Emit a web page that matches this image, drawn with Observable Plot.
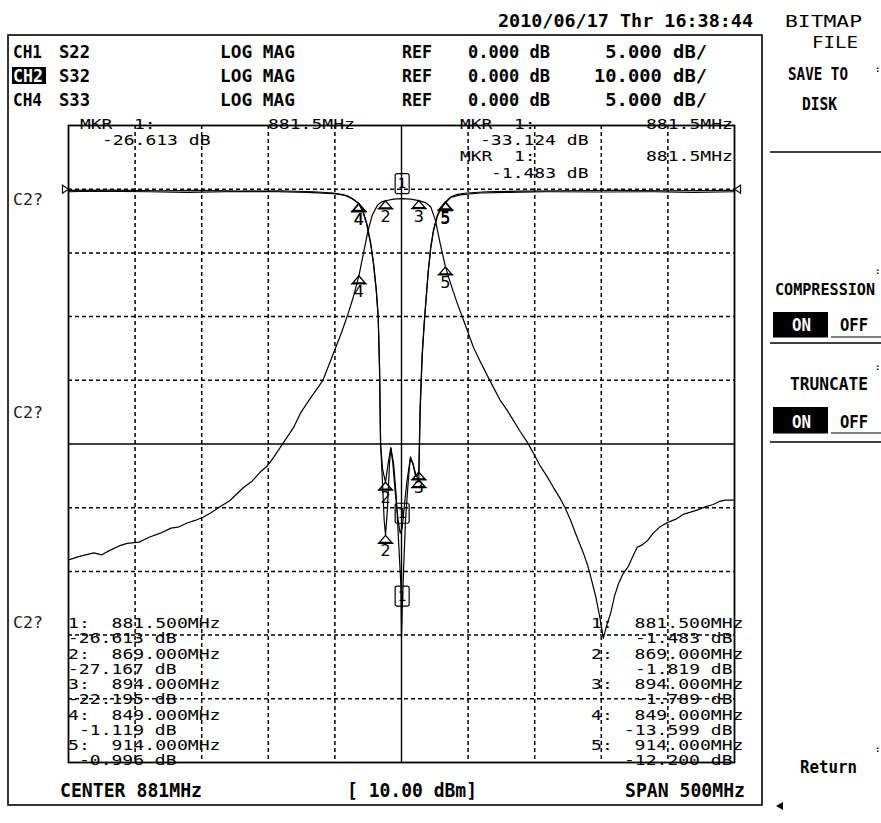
<!DOCTYPE html>
<html><head><meta charset="utf-8">
<script src="https://cdn.jsdelivr.net/npm/d3@7"></script>
<script src="https://cdn.jsdelivr.net/npm/@observablehq/plot@0.6"></script>
<style>
html,body{margin:0;padding:0;background:#fff;overflow:hidden;}
#chart{position:relative;width:881px;height:823px;}
#chart svg{display:block;}
</style></head><body><div id="chart"></div>
<script>
// ---------- data ----------
const centerFreq = 881;      // MHz
const spanMHz = 500;         // MHz
const gridFreqs = [681, 731, 781, 831, 931, 981, 1031, 1081];
const gridDivs = [0, -1, -2, -3, -5, -6, -7, -8];
const centerDiv = -4;
const divDomain = [-9, 1];

const channelNames = ["CH1", "CH2", "CH4"];
const channelParams = ["S22", "S32", "S33"];
const channelFormats = ["LOG MAG", "LOG MAG", "LOG MAG"];
const channelRefs = [0, 0, 0];
const channelScales = [5, 10, 5];
const activeChannel = "CH2";

const s32Freq = [631,640,650,656,662,669,675,684,692,700,708,714,720,726,732,738,745,752,762,769,775,780,785,792,800,805,812,822,830,836,841,845,849,852.5,856,859,863,866,869,875,881.5,888,894,899,903,906.5,910,914,918,923,928,935,940,946,951,955,960,965,970,976,981,985,990,995,1000,1004,1008,1012,1017.5,1021,1024,1027,1030,1032.5,1035,1038,1041,1044,1047,1051,1055,1058,1062,1066,1070,1075,1081,1087,1093,1098,1104,1110,1115,1120,1124,1131];
const s32Db = [-58.2,-57.6,-57.1,-57.4,-56.7,-56.0,-55.6,-55.4,-54.6,-54.0,-53.2,-53.0,-52.4,-52.0,-51.5,-50.8,-49.8,-48.9,-46.9,-45.8,-44.4,-43.5,-42.1,-39.9,-37.4,-35.2,-33.0,-30.0,-25.7,-22.5,-19.5,-16.8,-13.599,-10.0,-6.4,-4.1,-2.5,-2.0,-1.819,-1.55,-1.483,-1.55,-1.789,-2.1,-2.8,-4.9,-8.5,-12.2,-14.9,-18.0,-20.8,-24.8,-27.0,-29.5,-31.5,-33.1,-34.6,-36.3,-38.0,-39.9,-41.8,-43.4,-45.0,-46.8,-48.5,-50.1,-52.0,-54.2,-57.1,-59.2,-61.6,-64.1,-67.3,-70.5,-68.5,-66.6,-63.8,-61.9,-60.5,-59.3,-57.5,-56.2,-55.8,-55.1,-54.0,-53.0,-52.3,-51.8,-51.0,-50.7,-50.3,-49.8,-49.5,-49.0,-48.8,-48.8];

const s22Freq = [631,660,700,730,760,790,815,830,838,844,849,852,855,858,860,862,863.5,864.5,865.3,866.5,868,869,870.5,872,873,874.5,876.5,878.5,880,881.5,883,885,887.5,889.5,891.5,893,894,895,896.5,898,899.5,901,903,905,908,911,914,918,923,930,945,970,1000,1040,1080,1131];
const s22Db = [-0.1,-0.08,-0.12,-0.1,-0.15,-0.12,-0.2,-0.3,-0.45,-0.75,-1.119,-1.7,-2.7,-4.3,-5.8,-7.8,-10,-14,-20,-22.5,-26,-27.167,-25,-21.5,-20.3,-21.5,-24,-26,-27,-26.613,-25,-23,-21.2,-21.5,-22.5,-22.5,-22.195,-17,-13,-10.5,-8.5,-6.5,-4.5,-3.2,-2.0,-1.4,-0.996,-0.6,-0.4,-0.3,-0.2,-0.15,-0.12,-0.1,-0.12,-0.1];

const s33Freq = [631,650,690,720,750,780,810,830,840,845,849,852,855,858,860,862,863.5,864.5,865.3,866.8,869,871,873,875,877,879,880.5,881,881.5,882.5,884,886,887.7,889.5,892,894,895,896.5,898,899.5,901,903,905,908,911,914,918,925,940,960,990,1030,1070,1100,1131];
const s33Db = [-0.2,-0.15,-0.2,-0.25,-0.2,-0.18,-0.25,-0.35,-0.5,-0.8,-1.15,-1.75,-2.8,-4.4,-5.9,-7.9,-10,-14,-20,-22,-23,-21.5,-20.3,-21.5,-24,-28,-31,-35.2,-33.124,-30,-26,-23,-21,-21.5,-22.5,-22.8,-17.5,-13.2,-10.7,-8.6,-6.6,-4.6,-3.3,-2.1,-1.5,-1.05,-0.65,-0.45,-0.3,-0.25,-0.2,-0.22,-0.2,-0.25,-0.2];

const markerFreqs = [881.5, 869, 894, 849, 914];
const s22MarkerDb = [-26.613, -27.167, -22.195, -1.119, -0.996];
const s32MarkerDb = [-1.483, -1.819, -1.789, -13.599, -12.2];
const s33MarkerDb = [-33.124, -23.0, -22.8, -1.15, -1.05];

const dateText = "2010/06/17 Thr 16:38:44";
const sourcePower = 10.00; // dBm

// ---------- build tables ----------
const traces = [
  {ch: "S22", perDiv: channelScales[0], f: s22Freq, db: s22Db, mk: s22MarkerDb},
  {ch: "S32", perDiv: channelScales[1], f: s32Freq, db: s32Db, mk: s32MarkerDb},
  {ch: "S33", perDiv: channelScales[2], f: s33Freq, db: s33Db, mk: s33MarkerDb}
];
const rows = traces.flatMap(t => t.f.map((f, i) => ({ch: t.ch, f, y: t.db[i] / t.perDiv})));
const markerRows = traces.flatMap(t => markerFreqs.map((f, i) => ({ch: t.ch, n: i + 1, f, y: t.mk[i] / t.perDiv})));
const activeMarkers = markerRows.filter(d => d.n === 1);
const deltaMarkers = markerRows.filter(d => d.n !== 1);
// S22 and S33 markers 3 fall on top of each other: draw that number once
const deltaLabels = deltaMarkers.filter(d => !(d.ch === "S33" && d.n === 3));

const triSym = {draw(ctx) {
  ctx.moveTo(0, 0); ctx.lineTo(-6, 7); ctx.lineTo(6, 7); ctx.closePath();
  ctx.moveTo(-8, 8); ctx.lineTo(8, 8);
}};
const boxSym = {draw(ctx) {
  const x0 = -7, x1 = 7, y0 = -25, y1 = -5, r = 2;
  ctx.moveTo(x0 + r, y0); ctx.lineTo(x1 - r, y0); ctx.arcTo(x1, y0, x1, y0 + r, r);
  ctx.lineTo(x1, y1 - r); ctx.arcTo(x1, y1, x1 - r, y1, r);
  ctx.lineTo(x0 + r, y1); ctx.arcTo(x0, y1, x0, y1 - r, r);
  ctx.lineTo(x0, y0 + r); ctx.arcTo(x0, y0, x0 + r, y0, r); ctx.closePath();
}};
const refRight = {draw(ctx) { ctx.moveTo(-6, -4); ctx.lineTo(0, 0); ctx.lineTo(-6, 4); ctx.closePath(); }};
const refLeft = {draw(ctx) { ctx.moveTo(6, -4); ctx.lineTo(0, 0); ctx.lineTo(6, 4); ctx.closePath(); }};

const W = 881, H = 823;
const xDom = [centerFreq - spanMHz / 2, centerFreq + spanMHz / 2];

const svg = Plot.plot({
  width: W, height: H,
  marginLeft: 68, marginRight: 147, marginTop: 125, marginBottom: 61,
  x: {domain: xDom, axis: null},
  y: {domain: divDomain, axis: null},
  style: {background: "white", overflow: "visible"},
  marks: [
    Plot.ruleX(gridFreqs, {stroke: "black", strokeWidth: 1.5, strokeDasharray: "4,3"}),
    Plot.ruleY(gridDivs, {stroke: "black", strokeWidth: 1.5, strokeDasharray: "4,3"}),
    Plot.ruleX([centerFreq], {stroke: "black", strokeWidth: 1.4}),
    Plot.ruleY([centerDiv], {stroke: "black", strokeWidth: 1.4}),
    Plot.frame({stroke: "black", strokeWidth: 1.8}),
    Plot.line(rows, {x: "f", y: "y", z: "ch", stroke: "black", strokeWidth: 1.2}),
    Plot.dot([{f: xDom[0], y: 0}], {x: "f", y: "y", symbol: refRight, fill: "white", stroke: "black", strokeWidth: 1.2}),
    Plot.dot([{f: xDom[1], y: 0}], {x: "f", y: "y", symbol: refLeft, fill: "white", stroke: "black", strokeWidth: 1.2}),
    Plot.dot(deltaMarkers, {x: "f", y: "y", symbol: triSym, fill: "none", stroke: "black", strokeWidth: 1.3}),
    Plot.text(deltaLabels, {x: "f", y: "y", text: "n", dy: 16, fontSize: 16, fontFamily: "DejaVu Sans", fill: "black"}),
    Plot.dot(activeMarkers, {x: "f", y: "y", symbol: boxSym, fill: "none", stroke: "black", strokeWidth: 1.2}),
    Plot.text(activeMarkers, {x: "f", y: "y", text: "n", dy: -15, fontSize: 14, fontFamily: "DejaVu Sans", fill: "black"})
  ]
});
document.getElementById("chart").appendChild(svg);

// ---------- instrument screen chrome ----------
const MONO = "DejaVu Sans Mono";
const g = d3.select(svg).append("g");
function label(x, y, str, o = {}) {
  const size = o.size || 14, weight = o.weight || "normal", anchor = o.anchor || "start";
  const t = g.append("text").attr("x", x).attr("y", y).text(str)
    .attr("font-family", o.family || MONO).attr("font-size", size).attr("font-weight", weight)
    .attr("fill", o.fill || "black").attr("text-anchor", anchor).style("white-space", "pre");
  if (o.width) t.attr("textLength", o.width).attr("lengthAdjust", "spacingAndGlyphs");
  return t;
}
function thinLine(x0, y, str, adv) {
  const n = str.length - str.trimStart().length;
  const s = str.trimStart();
  label(x0 + n * adv, y, s, {size: 14, width: s.length * adv - 1.5});
}
// outer panel
g.append("rect").attr("x", 8).attr("y", 35).attr("width", 754).attr("height", 770)
  .attr("fill", "none").attr("stroke", "black").attr("stroke-width", 1.6);

// date
label(498, 27, dateText, {size: 17, weight: "bold", width: 255});

// channel header rows
channelNames.forEach((c, i) => {
  const y = 58 + 24 * i;
  if (c === activeChannel) {
    g.append("rect").attr("x", 12).attr("y", y - 15).attr("width", 34).attr("height", 17).attr("fill", "black");
    label(13, y, c, {size: 18, weight: "bold", width: 30, fill: "white"});
  } else {
    label(13, y, c, {size: 18, weight: "bold", width: 29});
  }
  label(59, y, channelParams[i], {size: 18, weight: "bold", width: 31});
  label(220, y, channelFormats[i], {size: 18, weight: "bold", width: 75});
  label(402, y, "REF", {size: 18, weight: "bold", width: 30});
  label(468, y, `${channelRefs[i].toFixed(3)} dB`, {size: 18, weight: "bold", width: 82});
  const sc = `${channelScales[i].toFixed(3)} dB/`;
  label(707, y, sc, {size: 18, weight: "bold", anchor: "end", width: sc.length * 11.3});
});

// marker header readouts
const ADV = 11;
thinLine(80, 129, "MKR  1:", ADV);
label(355, 129, `${markerFreqs[0].toFixed(1)}MHz`, {size: 14, anchor: "end", width: 87});
thinLine(102, 145, `${s22MarkerDb[0].toFixed(3)} dB`, ADV);
thinLine(460, 129, "MKR  1:", ADV);
label(733, 129, `${markerFreqs[0].toFixed(1)}MHz`, {size: 14, anchor: "end", width: 87});
thinLine(480, 145, `${s33MarkerDb[0].toFixed(3)} dB`, ADV);
thinLine(460, 161, "MKR  1:", ADV);
label(733, 161, `${markerFreqs[0].toFixed(1)}MHz`, {size: 14, anchor: "end", width: 87});
thinLine(491, 178, `${s32MarkerDb[0].toFixed(3)} dB`, ADV);

// marker lists
const leftLines = markerFreqs.flatMap((f, i) => [`${i + 1}:  ${f.toFixed(3)}MHz`, `${s22MarkerDb[i].toFixed(3)} dB`.padStart(10)]);
const rightLines = markerFreqs.flatMap((f, i) => [`${i + 1}:  ${f.toFixed(3)}MHz`, `${s32MarkerDb[i].toFixed(3)} dB`.padStart(13)]);
leftLines.forEach((s, i) => thinLine(68, 628 + i * 15.25, s, ADV));
rightLines.forEach((s, i) => thinLine(591, 628 + i * 15.25, s, ADV));

// C2? labels
[205, 418, 628].forEach(y => label(13, y, "C2?", {size: 15, width: 30, fill: "#222"}));

// bottom annotations
label(60, 797, `CENTER ${centerFreq}MHz`, {size: 19, weight: "bold", width: 142});
label(347, 797, `[ ${sourcePower.toFixed(2)} dBm]`, {size: 19, weight: "bold", width: 130});
label(745, 797, `SPAN ${spanMHz}MHz`, {size: 19, weight: "bold", anchor: "end", width: 120});

// softkey menu
label(785, 27, "BITMAP", {size: 16, width: 77});
label(812, 48, "FILE", {size: 16, width: 46});
label(788, 80, "SAVE TO", {size: 18, weight: "bold", width: 60});
label(802, 110, "DISK", {size: 18, weight: "bold", width: 35});
function hline(x0, x1, y, w = 1.6) {
  g.append("line").attr("x1", x0).attr("x2", x1).attr("y1", y).attr("y2", y).attr("stroke", "black").attr("stroke-width", w);
}
hline(770, 881, 152);
label(775, 295, "COMPRESSION", {size: 15.5, weight: "bold", width: 100});
label(790, 390, "TRUNCATE", {size: 18, weight: "bold", width: 78});
[[312, 331, 337, 343], [407, 428, 433, 442]].forEach(([top, base, ul, sep]) => {
  g.append("rect").attr("x", 773).attr("y", top).attr("width", 55).attr("height", ul - top).attr("fill", "black");
  label(792, base, "ON", {size: 18, weight: "bold", width: 19, fill: "white"});
  label(840, base, "OFF", {size: 18, weight: "bold", width: 28});
  hline(773, 828, ul, 1.2);
  hline(831, 881, ul, 1.2);
  hline(770, 881, sep);
});
label(800, 773, "Return", {size: 18, weight: "bold", width: 57});
[[875, 72], [875, 274], [875, 370], [875, 752]].forEach(([x, y]) => label(x, y, ":", {size: 9, weight: "bold"}));
g.append("path").attr("d", "M776,806 L783,802 L783,810 Z").attr("fill", "black");
</script>
</body></html>
